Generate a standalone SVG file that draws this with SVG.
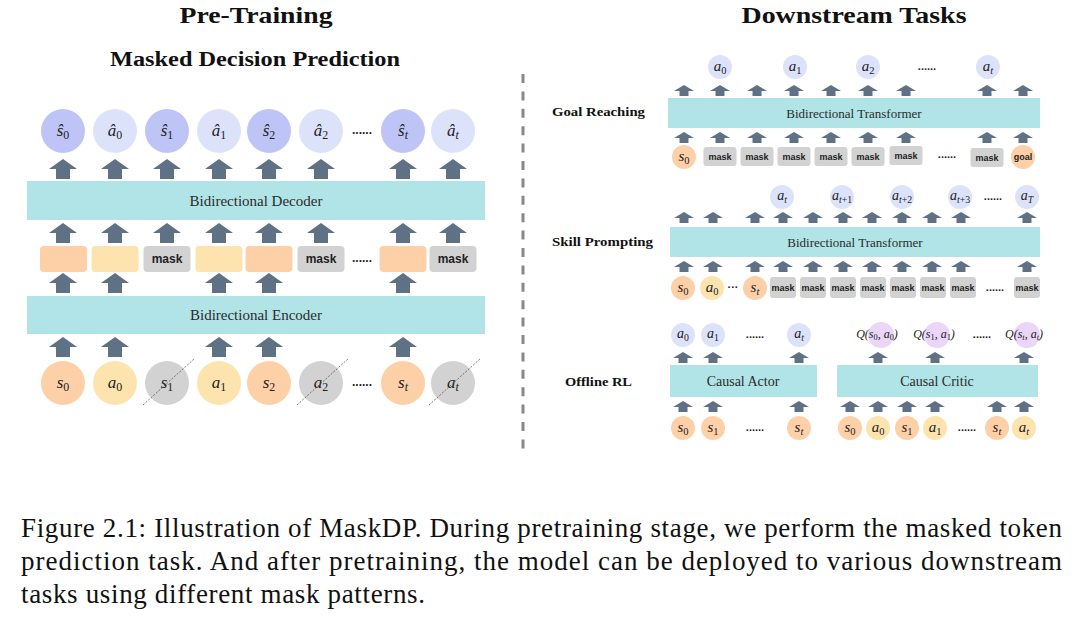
<svg xmlns="http://www.w3.org/2000/svg" xmlns:xlink="http://www.w3.org/1999/xlink" width="1080" height="623" viewBox="0 0 1080 623">
<style>
.arr{fill:#5f7185}
.bar{fill:#b1e4e6}
.sh{fill:#bfc4f6}.ah{fill:#dde2fb}
.so{fill:#fdd0a8}.ay{fill:#fde4ae}.gr{fill:#d2d2d2}.qp{fill:#ebd5f8}
.lbl{font-family:"Liberation Serif",serif;fill:#2b2b2b;text-anchor:middle}
.m{font-family:"Liberation Serif",serif;font-style:italic;text-anchor:middle;fill:#222}
.L{font-size:17px}
.R{font-size:15px}
.sub{font-style:normal;font-size:70%}
.subi{font-size:70%}
.mk{font-family:"Liberation Sans",sans-serif;font-weight:bold;text-anchor:middle;fill:#222}
.dots{font-family:"Liberation Sans",sans-serif;font-weight:bold;text-anchor:middle;fill:#222}
.title{font-family:"Liberation Serif",serif;font-weight:bold;text-anchor:middle;fill:#111}
.task{font-family:"Liberation Serif",serif;font-weight:bold;fill:#111;font-size:13px}
.cap{font-family:"Liberation Serif",serif;font-size:27px;fill:#111}
.slash{stroke:#555;stroke-width:0.8;stroke-dasharray:2 1.5;fill:none}
</style>
<defs>
<path id="A" class="arr" d="M0,0 L14,10 L7,10 L7,20 L-7,20 L-7,10 L-14,10 Z"/>
<path id="a" class="arr" d="M0,0 L10,6 L4.5,6 L4.5,11 L-4.5,11 L-4.5,6 L-10,6 Z"/>
</defs>
<rect width="1080" height="623" fill="#fff"/>

<g id="titles">
<text class="title" x="256" y="23" font-size="23" textLength="153" lengthAdjust="spacingAndGlyphs">Pre-Training</text>
<text class="title" x="255" y="66" font-size="20" textLength="290" lengthAdjust="spacingAndGlyphs">Masked Decision Prediction</text>
<text class="title" x="854" y="23" font-size="23" textLength="225" lengthAdjust="spacingAndGlyphs">Downstream Tasks</text>
<text class="task" x="552" y="116" textLength="93" lengthAdjust="spacingAndGlyphs">Goal Reaching</text>
<text class="task" x="552" y="246" textLength="101" lengthAdjust="spacingAndGlyphs">Skill Prompting</text>
<text class="task" x="565" y="386" textLength="67" lengthAdjust="spacingAndGlyphs">Offline RL</text>
</g>

<line id="divider" x1="523" y1="74" x2="523" y2="450" stroke="#888" stroke-width="3" stroke-dasharray="9 8.4"/>

<g id="connectors">
<use href="#A" x="63" y="159"/><use href="#A" x="115" y="159"/><use href="#A" x="167" y="159"/><use href="#A" x="219" y="159"/><use href="#A" x="269" y="159"/><use href="#A" x="321" y="159"/><use href="#A" x="403" y="159"/><use href="#A" x="453" y="159"/>
<use href="#A" x="63" y="223"/><use href="#A" x="115" y="223"/><use href="#A" x="167" y="223"/><use href="#A" x="219" y="223"/><use href="#A" x="269" y="223"/><use href="#A" x="321" y="223"/><use href="#A" x="403" y="223"/><use href="#A" x="453" y="223"/>
<use href="#A" x="63" y="273"/><use href="#A" x="115" y="273"/><use href="#A" x="219" y="273"/><use href="#A" x="269" y="273"/><use href="#A" x="403" y="273"/>
<use href="#A" x="63" y="337"/><use href="#A" x="115" y="337"/><use href="#A" x="219" y="337"/><use href="#A" x="269" y="337"/><use href="#A" x="403" y="337"/>
<use href="#a" x="684" y="85"/><use href="#a" x="720" y="85"/><use href="#a" x="757" y="85"/><use href="#a" x="794" y="85"/><use href="#a" x="831" y="85"/><use href="#a" x="868" y="85"/><use href="#a" x="906" y="85"/><use href="#a" x="987" y="85"/><use href="#a" x="1023" y="85"/>
<use href="#a" x="684" y="132"/><use href="#a" x="720" y="132"/><use href="#a" x="757" y="132"/><use href="#a" x="794" y="132"/><use href="#a" x="831" y="132"/><use href="#a" x="868" y="132"/><use href="#a" x="906" y="132"/><use href="#a" x="987" y="132"/><use href="#a" x="1023" y="132"/>
<use href="#a" x="684" y="212"/><use href="#a" x="713" y="212"/><use href="#a" x="755" y="212"/><use href="#a" x="783" y="212"/><use href="#a" x="813" y="212"/><use href="#a" x="843" y="212"/><use href="#a" x="872" y="212"/><use href="#a" x="902" y="212"/><use href="#a" x="932" y="212"/><use href="#a" x="961" y="212"/><use href="#a" x="1027" y="212"/>
<use href="#a" x="684" y="261"/><use href="#a" x="713" y="261"/><use href="#a" x="755" y="261"/><use href="#a" x="783" y="261"/><use href="#a" x="813" y="261"/><use href="#a" x="843" y="261"/><use href="#a" x="872" y="261"/><use href="#a" x="902" y="261"/><use href="#a" x="932" y="261"/><use href="#a" x="961" y="261"/><use href="#a" x="1027" y="261"/>
<use href="#a" x="683" y="352"/><use href="#a" x="713" y="352"/><use href="#a" x="799" y="352"/>
<use href="#a" x="683" y="401"/><use href="#a" x="713" y="401"/><use href="#a" x="799" y="401"/>
<use href="#a" x="878" y="352"/><use href="#a" x="935" y="352"/><use href="#a" x="1024" y="352"/>
<use href="#a" x="850" y="401"/><use href="#a" x="878" y="401"/><use href="#a" x="907" y="401"/><use href="#a" x="935" y="401"/><use href="#a" x="997" y="401"/><use href="#a" x="1024" y="401"/>
</g>

<g id="pred-s0"><circle class="sh" cx="63" cy="131" r="22"/><text class="m L" x="63" y="136">ŝ<tspan class="sub" dy="3">0</tspan></text></g>
<g id="pred-a0"><circle class="ah" cx="115" cy="131" r="22"/><text class="m L" x="115" y="136">â<tspan class="sub" dy="3">0</tspan></text></g>
<g id="pred-s1"><circle class="sh" cx="167" cy="131" r="22"/><text class="m L" x="167" y="136">ŝ<tspan class="sub" dy="3">1</tspan></text></g>
<g id="pred-a1"><circle class="ah" cx="219" cy="131" r="22"/><text class="m L" x="219" y="136">â<tspan class="sub" dy="3">1</tspan></text></g>
<g id="pred-s2"><circle class="sh" cx="269" cy="131" r="22"/><text class="m L" x="269" y="136">ŝ<tspan class="sub" dy="3">2</tspan></text></g>
<g id="pred-a2"><circle class="ah" cx="321" cy="131" r="22"/><text class="m L" x="321" y="136">â<tspan class="sub" dy="3">2</tspan></text></g>
<text class="dots" x="362" y="134" font-size="12">......</text>
<g id="pred-st"><circle class="sh" cx="403" cy="131" r="22"/><text class="m L" x="403" y="136">ŝ<tspan class="subi" dy="3">t</tspan></text></g>
<g id="pred-at"><circle class="ah" cx="453" cy="131" r="22"/><text class="m L" x="453" y="136">â<tspan class="subi" dy="3">t</tspan></text></g>

<g id="decoder"><rect class="bar" x="27" y="181" width="458" height="39"/><text class="lbl" x="256" y="206" font-size="15">Bidirectional Decoder</text></g>

<g id="tok-1"><rect class="so" x="40" y="246" width="47" height="26" rx="4"/></g>
<g id="tok-2"><rect class="ay" x="91.5" y="246" width="47" height="26" rx="4"/></g>
<g id="tok-3"><rect class="gr" x="143.5" y="246" width="47" height="26" rx="4"/><text class="mk" x="167" y="263" font-size="12">mask</text></g>
<g id="tok-4"><rect class="ay" x="195.5" y="246" width="47" height="26" rx="4"/></g>
<g id="tok-5"><rect class="so" x="245.5" y="246" width="47" height="26" rx="4"/></g>
<g id="tok-6"><rect class="gr" x="297.5" y="246" width="47" height="26" rx="4"/><text class="mk" x="321" y="263" font-size="12">mask</text></g>
<text class="dots" x="362" y="262" font-size="12">......</text>
<g id="tok-7"><rect class="so" x="379.5" y="246" width="47" height="26" rx="4"/></g>
<g id="tok-8"><rect class="gr" x="429.5" y="246" width="47" height="26" rx="4"/><text class="mk" x="453" y="263" font-size="12">mask</text></g>

<g id="encoder"><rect class="bar" x="27" y="296" width="458" height="38"/><text class="lbl" x="256" y="320" font-size="15">Bidirectional Encoder</text></g>

<g id="in-s0"><circle class="so" cx="63" cy="383" r="22"/><text class="m L" x="63" y="388">s<tspan class="sub" dy="3">0</tspan></text></g>
<g id="in-a0"><circle class="ay" cx="115" cy="383" r="22"/><text class="m L" x="115" y="388">a<tspan class="sub" dy="3">0</tspan></text></g>
<g id="in-s1"><circle class="gr" cx="167" cy="383" r="22"/><text class="m L" x="167" y="388">s<tspan class="sub" dy="3">1</tspan></text><line class="slash" x1="143" y1="405" x2="194" y2="359"/></g>
<g id="in-a1"><circle class="ay" cx="219" cy="383" r="22"/><text class="m L" x="219" y="388">a<tspan class="sub" dy="3">1</tspan></text></g>
<g id="in-s2"><circle class="so" cx="269" cy="383" r="22"/><text class="m L" x="269" y="388">s<tspan class="sub" dy="3">2</tspan></text></g>
<g id="in-a2"><circle class="gr" cx="321" cy="383" r="22"/><text class="m L" x="321" y="388">a<tspan class="sub" dy="3">2</tspan></text><line class="slash" x1="297" y1="405" x2="348" y2="359"/></g>
<text class="dots" x="362" y="386" font-size="12">......</text>
<g id="in-st"><circle class="so" cx="403" cy="383" r="22"/><text class="m L" x="403" y="388">s<tspan class="subi" dy="3">t</tspan></text></g>
<g id="in-at"><circle class="gr" cx="453" cy="383" r="22"/><text class="m L" x="453" y="388">a<tspan class="subi" dy="3">t</tspan></text><line class="slash" x1="429" y1="405" x2="480" y2="359"/></g>

<g id="gr-out-a0"><circle class="ah" cx="720" cy="67" r="12"/><text class="m R" x="720" y="71">a<tspan class="sub" dy="3">0</tspan></text></g>
<g id="gr-out-a1"><circle class="ah" cx="795" cy="67" r="12"/><text class="m R" x="795" y="71">a<tspan class="sub" dy="3">1</tspan></text></g>
<g id="gr-out-a2"><circle class="ah" cx="868" cy="67" r="12"/><text class="m R" x="868" y="71">a<tspan class="sub" dy="3">2</tspan></text></g>
<text class="dots" x="927" y="70" font-size="11">......</text>
<g id="gr-out-at"><circle class="ah" cx="988" cy="67" r="12"/><text class="m R" x="988" y="71">a<tspan class="subi" dy="3">t</tspan></text></g>
<g id="gr-transformer"><rect class="bar" x="668" y="98" width="372" height="30"/><text class="lbl" x="854" y="118" font-size="13">Bidirectional Transformer</text></g>
<g id="gr-s0"><circle class="so" cx="684" cy="157" r="12"/><text class="m R" x="684" y="161">s<tspan class="sub" dy="3">0</tspan></text></g>
<g id="gr-m1"><rect class="gr" x="703.5" y="147" width="33" height="19" rx="3"/><text class="mk" x="720" y="160" font-size="9">mask</text></g>
<g id="gr-m2"><rect class="gr" x="740.5" y="147" width="33" height="19" rx="3"/><text class="mk" x="757" y="160" font-size="9">mask</text></g>
<g id="gr-m3"><rect class="gr" x="777.5" y="147" width="33" height="19" rx="3"/><text class="mk" x="794" y="160" font-size="9">mask</text></g>
<g id="gr-m4"><rect class="gr" x="814.5" y="147" width="33" height="19" rx="3"/><text class="mk" x="831" y="160" font-size="9">mask</text></g>
<g id="gr-m5"><rect class="gr" x="851.5" y="147" width="33" height="19" rx="3"/><text class="mk" x="868" y="160" font-size="9">mask</text></g>
<g id="gr-m6"><rect class="gr" x="889.5" y="146" width="33" height="19" rx="3"/><text class="mk" x="906" y="159" font-size="9">mask</text></g>
<text class="dots" x="947" y="158" font-size="11">......</text>
<g id="gr-m7"><rect class="gr" x="970.5" y="148" width="33" height="19" rx="3"/><text class="mk" x="987" y="161" font-size="9">mask</text></g>
<g id="gr-goal"><circle class="so" cx="1023" cy="157" r="12"/><text class="mk" x="1023" y="160" font-size="9">goal</text></g>

<g id="sp-out-at"><circle class="ah" cx="782" cy="197" r="12"/><text class="m" x="782" y="200" font-size="14">a<tspan class="subi" dy="3">t</tspan></text></g>
<g id="sp-out-at1"><circle class="ah" cx="842" cy="197" r="12"/><text class="m" x="842" y="200" font-size="14">a<tspan class="subi" dy="3">t</tspan><tspan class="sub">+1</tspan></text></g>
<g id="sp-out-at2"><circle class="ah" cx="902" cy="197" r="12"/><text class="m" x="902" y="200" font-size="14">a<tspan class="subi" dy="3">t</tspan><tspan class="sub">+2</tspan></text></g>
<g id="sp-out-at3"><circle class="ah" cx="960" cy="197" r="12"/><text class="m" x="960" y="200" font-size="14">a<tspan class="subi" dy="3">t</tspan><tspan class="sub">+3</tspan></text></g>
<text class="dots" x="993" y="200" font-size="11">......</text>
<g id="sp-out-aT"><circle class="ah" cx="1027" cy="197" r="12"/><text class="m" x="1027" y="200" font-size="14">a<tspan class="subi" dy="3">T</tspan></text></g>
<g id="sp-transformer"><rect class="bar" x="670" y="227" width="370" height="30"/><text class="lbl" x="855" y="247" font-size="13">Bidirectional Transformer</text></g>
<g id="sp-s0"><circle class="so" cx="683" cy="288" r="12"/><text class="m R" x="683" y="292">s<tspan class="sub" dy="3">0</tspan></text></g>
<g id="sp-a0"><circle class="ay" cx="712" cy="288" r="12"/><text class="m R" x="712" y="292">a<tspan class="sub" dy="3">0</tspan></text></g>
<text class="dots" x="733" y="291" font-size="11">···</text>
<g id="sp-st"><circle class="so" cx="755" cy="288" r="12"/><text class="m R" x="755" y="292">s<tspan class="subi" dy="3">t</tspan></text></g>
<g id="sp-m1"><rect class="gr" x="770" y="277" width="26" height="21" rx="3"/><text class="mk" x="783" y="291" font-size="9">mask</text></g>
<g id="sp-m2"><rect class="gr" x="800" y="277" width="26" height="21" rx="3"/><text class="mk" x="813" y="291" font-size="9">mask</text></g>
<g id="sp-m3"><rect class="gr" x="830" y="277" width="26" height="21" rx="3"/><text class="mk" x="843" y="291" font-size="9">mask</text></g>
<g id="sp-m4"><rect class="gr" x="860" y="277" width="26" height="21" rx="3"/><text class="mk" x="873" y="291" font-size="9">mask</text></g>
<g id="sp-m5"><rect class="gr" x="890" y="277" width="26" height="21" rx="3"/><text class="mk" x="903" y="291" font-size="9">mask</text></g>
<g id="sp-m6"><rect class="gr" x="920" y="277" width="26" height="21" rx="3"/><text class="mk" x="933" y="291" font-size="9">mask</text></g>
<g id="sp-m7"><rect class="gr" x="950" y="277" width="26" height="21" rx="3"/><text class="mk" x="963" y="291" font-size="9">mask</text></g>
<text class="dots" x="995" y="291" font-size="11">......</text>
<g id="sp-m8"><rect class="gr" x="1014" y="277" width="26" height="21" rx="3"/><text class="mk" x="1027" y="291" font-size="9">mask</text></g>

<g id="rl-out-a0"><circle class="ah" cx="683" cy="335" r="12"/><text class="m" x="683" y="338" font-size="14">a<tspan class="sub" dy="3">0</tspan></text></g>
<g id="rl-out-a1"><circle class="ah" cx="713" cy="335" r="12"/><text class="m" x="713" y="338" font-size="14">a<tspan class="sub" dy="3">1</tspan></text></g>
<text class="dots" x="755" y="338" font-size="11">......</text>
<g id="rl-out-at"><circle class="ah" cx="799" cy="335" r="12"/><text class="m" x="799" y="338" font-size="14">a<tspan class="subi" dy="3">t</tspan></text></g>
<g id="rl-actor"><rect class="bar" x="670" y="365" width="147" height="32"/><text class="lbl" x="743" y="386" font-size="14">Causal Actor</text></g>
<g id="rl-a-s0"><circle class="so" cx="683" cy="428" r="12"/><text class="m R" x="683" y="432">s<tspan class="sub" dy="3">0</tspan></text></g>
<g id="rl-a-s1"><circle class="so" cx="713" cy="428" r="12"/><text class="m R" x="713" y="432">s<tspan class="sub" dy="3">1</tspan></text></g>
<text class="dots" x="755" y="431" font-size="11">......</text>
<g id="rl-a-st"><circle class="so" cx="799" cy="428" r="12"/><text class="m R" x="799" y="432">s<tspan class="subi" dy="3">t</tspan></text></g>

<g id="rl-q0"><circle class="qp" cx="881" cy="335" r="13"/><text class="m" x="877" y="338" font-size="12">Q(s<tspan class="sub" dy="2">0</tspan><tspan dy="-2">, a</tspan><tspan class="sub" dy="2">0</tspan><tspan dy="-2">)</tspan></text></g>
<g id="rl-q1"><circle class="qp" cx="937" cy="335" r="13"/><text class="m" x="934" y="338" font-size="12">Q(s<tspan class="sub" dy="2">1</tspan><tspan dy="-2">, a</tspan><tspan class="sub" dy="2">1</tspan><tspan dy="-2">)</tspan></text></g>
<text class="dots" x="982" y="338" font-size="11">......</text>
<g id="rl-qt"><circle class="qp" cx="1027" cy="335" r="13"/><text class="m" x="1024" y="338" font-size="12">Q(s<tspan class="subi" dy="2">t</tspan><tspan dy="-2">, a</tspan><tspan class="subi" dy="2">t</tspan><tspan dy="-2">)</tspan></text></g>
<g id="rl-critic"><rect class="bar" x="837" y="365" width="201" height="32"/><text class="lbl" x="937" y="386" font-size="14">Causal Critic</text></g>
<g id="rl-c-s0"><circle class="so" cx="850" cy="428" r="12"/><text class="m R" x="850" y="432">s<tspan class="sub" dy="3">0</tspan></text></g>
<g id="rl-c-a0"><circle class="ay" cx="878" cy="428" r="12"/><text class="m R" x="878" y="432">a<tspan class="sub" dy="3">0</tspan></text></g>
<g id="rl-c-s1"><circle class="so" cx="907" cy="428" r="12"/><text class="m R" x="907" y="432">s<tspan class="sub" dy="3">1</tspan></text></g>
<g id="rl-c-a1"><circle class="ay" cx="935" cy="428" r="12"/><text class="m R" x="935" y="432">a<tspan class="sub" dy="3">1</tspan></text></g>
<text class="dots" x="967" y="431" font-size="11">......</text>
<g id="rl-c-st"><circle class="so" cx="997" cy="428" r="12"/><text class="m R" x="997" y="432">s<tspan class="subi" dy="3">t</tspan></text></g>
<g id="rl-c-at"><circle class="ay" cx="1024" cy="428" r="12"/><text class="m R" x="1024" y="432">a<tspan class="subi" dy="3">t</tspan></text></g>

<g id="caption">
<text class="cap" x="21" y="537" textLength="1041" lengthAdjust="spacing">Figure 2.1: Illustration of MaskDP. During pretraining stage, we perform the masked token</text>
<text class="cap" x="21" y="570" textLength="1041" lengthAdjust="spacing">prediction task.  And after pretraining, the model can be deployed to various downstream</text>
<text class="cap" x="21" y="603" textLength="404" lengthAdjust="spacing">tasks using different mask patterns.</text>
</g>
</svg>
